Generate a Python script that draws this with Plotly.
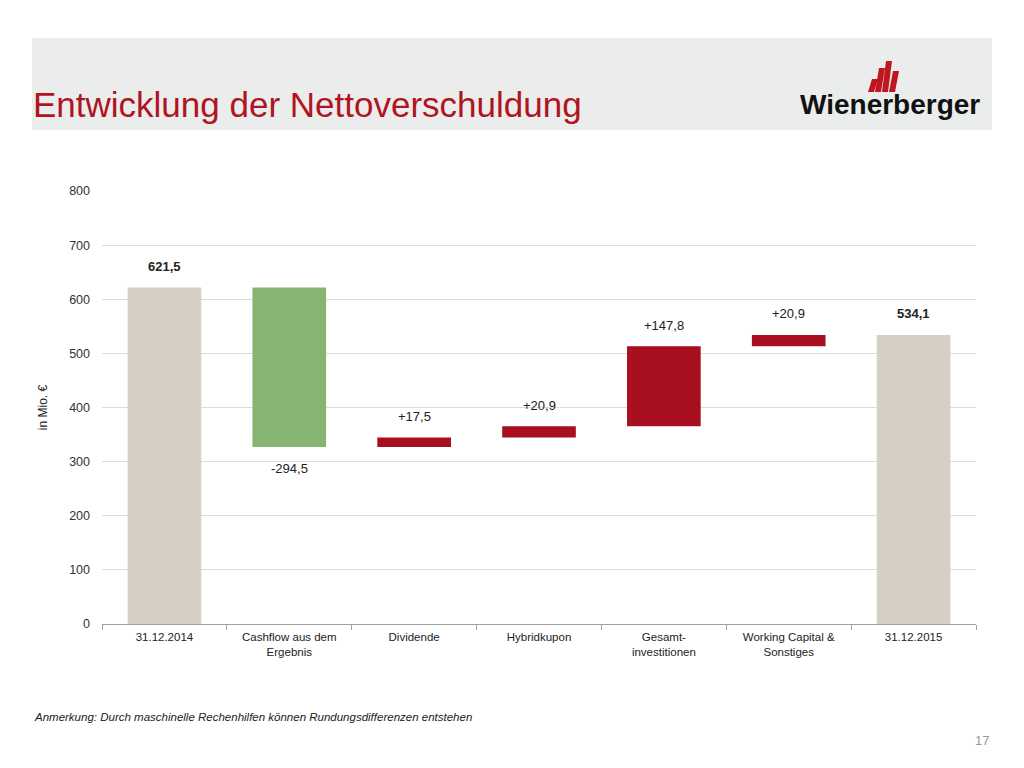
import plotly.graph_objects as go

categories = ["31.12.2014", "Cashflow aus dem<br>Ergebnis", "Dividende", "Hybridkupon",
              "Gesamt-<br>investitionen", "Working Capital &<br>Sonstiges", "31.12.2015"]
values = [621.5, -294.5, 17.5, 20.9, 147.8, 20.9, 534.1]
measures = ["absolute", "relative", "relative", "relative", "relative", "relative", "total"]
labels = ["<b>621,5</b>", "-294,5", "+17,5", "+20,9", "+147,8", "+20,9", "<b>534,1</b>"]
y_ticks = [0, 100, 200, 300, 400, 500, 600, 700, 800]

RED = "#A8101F"
GREEN = "#86B572"
GREY = "#D5D0C3"
FONT = "Liberation Sans, Arial"

# screen-pixel helpers (page is rendered with an 8px offset)
PL, PR, PT, PB = 102, 976, 191, 624


def xp(px):
    return (px - PL) / (PR - PL)


def yp(py):
    return (PB - py) / (PB - PT)


fig = go.Figure()
fig.add_trace(go.Waterfall(
    x=categories, y=values, measure=measures,
    increasing=dict(marker=dict(color=RED)),
    decreasing=dict(marker=dict(color=GREEN)),
    totals=dict(marker=dict(color=GREY)),
    connector=dict(visible=False),
    width=0.59,
    showlegend=False,
    hoverinfo="skip",
))

# value labels from data
run = 0.0
for cat, v, m, lab in zip(categories, values, measures, labels):
    if m == "absolute":
        start, end = 0.0, v
        run = v
    elif m == "total":
        start, end = 0.0, run
    else:
        start, end = run, run + v
        run = run + v
    top = max(start, end)
    bottom = min(start, end)
    if v < 0:
        fig.add_annotation(x=cat, y=bottom, text=lab, showarrow=False, yanchor="middle",
                           yshift=-21, font=dict(family=FONT, size=13, color="#222"))
    else:
        fig.add_annotation(x=cat, y=top, text=lab, showarrow=False, yanchor="middle",
                           yshift=21, font=dict(family=FONT, size=13, color="#222"))

fig.update_layout(
    width=1024, height=768,
    margin=dict(l=PL - 8, r=1024 - PR + 8, t=PT - 8, b=768 - PB + 8),
    paper_bgcolor="white", plot_bgcolor="white",
    font=dict(family=FONT, color="#333"),
    xaxis=dict(showgrid=False, showline=True, linecolor="#A0A0A0", linewidth=1,
               ticks="outside", tickson="boundaries", ticklen=5, tickcolor="#A0A0A0",
               ticklabelstandoff=2,
               tickfont=dict(size=11.5, color="#222")),
    yaxis=dict(range=[0, 800], tickvals=y_ticks, showgrid=True, gridcolor="#DCDCDC",
               zeroline=False, ticks="", ticklabelstandoff=11,
               tickfont=dict(size=12.5, color="#333"),
               title=dict(text="in Mio. €", font=dict(size=12, color="#222"), standoff=18)),
    shapes=[
        dict(type="rect", xref="paper", yref="paper", x0=xp(32), x1=xp(992),
             y0=yp(130), y1=yp(38),
             fillcolor="#EBEDEC", line=dict(width=0), layer="below"),
    ],
)

# header title
fig.add_annotation(text="Entwicklung der Nettoverschuldung", xref="paper", yref="paper",
                   x=xp(31), y=yp(104), xanchor="left", yanchor="middle",
                   showarrow=False, font=dict(family=FONT, size=35, color="#B0141F"))
# logo text
fig.add_annotation(text="<b>Wienerberger</b>", xref="paper", yref="paper",
                   x=xp(890), y=yp(104), xanchor="center", yanchor="middle",
                   showarrow=False, font=dict(family=FONT, size=28, color="#111"))
# logo stripes (slanted)
stripes = [(868, 875, 79, 92), (875, 882, 68, 92), (882, 889, 61, 92), (889, 896, 71, 92)]
for (xa, xb, ya, yb) in stripes:
    fig.add_shape(type="path", xref="paper", yref="paper",
                  path="M {} {} L {} {} L {} {} L {} {} Z".format(
                      xp(xa), yp(yb), xp(xb - 1), yp(yb),
                      xp(xb + 3), yp(ya), xp(xa + 4), yp(ya)),
                  fillcolor="#C0161F", line=dict(width=0))
# footnote
fig.add_annotation(text="<i>Anmerkung: Durch maschinelle Rechenhilfen können Rundungsdifferenzen entstehen</i>",
                   xref="paper", yref="paper", x=xp(32), y=yp(717),
                   xanchor="left", yanchor="middle", showarrow=False,
                   font=dict(family=FONT, size=11.5, color="#222"))
# page number
fig.add_annotation(text="17", xref="paper", yref="paper", x=xp(991), y=yp(740),
                   xanchor="right", yanchor="middle", showarrow=False,
                   font=dict(family=FONT, size=13, color="#999"))

fig.write_html("out.html")
